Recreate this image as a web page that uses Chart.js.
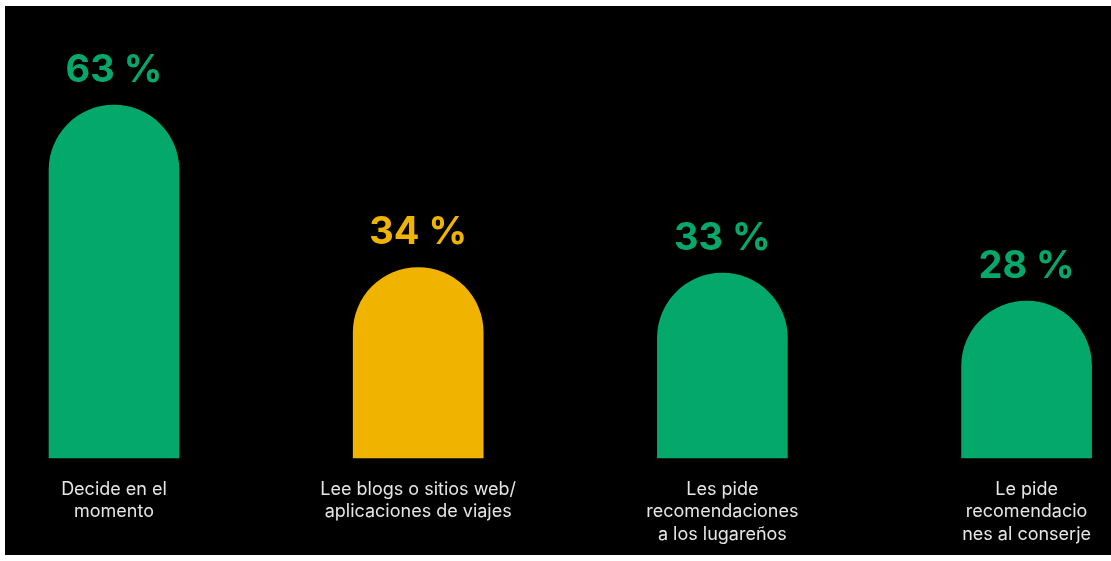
<!DOCTYPE html>
<html lang="es">
<head>
<meta charset="utf-8">
<title>Decisiones de viaje</title>
<script src="https://cdn.jsdelivr.net/npm/chart.js@4.4.1/dist/chart.umd.min.js"></script>
<style>
    html, body { margin: 0; padding: 0; background: #ffffff; }
    .frame {
        position: absolute;
        left: 5px;
        top: 6px;
        width: 1106px;
        height: 549px;
        background: #000000;
    }
</style>
</head>
<body>
<div class="frame">
    <canvas id="decisionChart"></canvas>
</div>
<script>
// Data read from the infographic
const categories = [
    ['Decide en el', 'momento'],
    ['Lee blogs o sitios web/', 'aplicaciones de viajes'],
    ['Les pide', 'recomendaciones', 'a los lugareños'],
    ['Le pide', 'recomendacio', 'nes al conserje']
];
const percentages = [63, 34, 33, 28];
const barColors = ['#05a86b', '#f0b400', '#05a86b', '#05a86b'];

// Draws the "63 %" style labels above each bar
const valueLabels = {
    id: 'valueLabels',
    afterDatasetsDraw(chart) {
        const ctx = chart.ctx;
        const meta = chart.getDatasetMeta(0);
        ctx.save();
        ctx.font = '700 38px Inter, "DejaVu Sans", sans-serif';
        ctx.textAlign = 'center';
        ctx.textBaseline = 'middle';
        meta.data.forEach((bar, i) => {
            ctx.fillStyle = barColors[i];
            ctx.fillText(percentages[i] + ' %', bar.x, bar.y - 35);
        });
        ctx.restore();
    }
};

function renderChart() {
    const ctx = document.getElementById('decisionChart').getContext('2d');

    new Chart(ctx, {
        type: 'bar',
        data: {
            labels: categories,
            datasets: [{
                data: percentages,
                backgroundColor: barColors,
                barThickness: 130,
                borderRadius: { topLeft: 65, topRight: 65, bottomLeft: 0, bottomRight: 0 },
                borderSkipped: false,
                clip: false
            }]
        },
        options: {
            responsive: true,
            maintainAspectRatio: false,
            animation: false,
            layout: {
                padding: { top: 4, left: 109, right: 83, bottom: 0 }
            },
            plugins: {
                legend: { display: false },
                tooltip: { enabled: false }
            },
            scales: {
                x: {
                    offset: false,
                    border: { display: false },
                    grid: { display: false, drawTicks: false },
                    ticks: {
                        color: '#e6e6e6',
                        padding: 20,
                        maxRotation: 0,
                        autoSkip: false,
                        font: { size: 18, family: 'Inter', lineHeight: 1.25 }
                    },
                    afterFit(scale) {
                        scale.height = 97;
                    }
                },
                y: {
                    display: false,
                    min: 0,
                    max: 80
                }
            }
        },
        plugins: [valueLabels]
    });
}

renderChart();
</script>
</body>
</html>
